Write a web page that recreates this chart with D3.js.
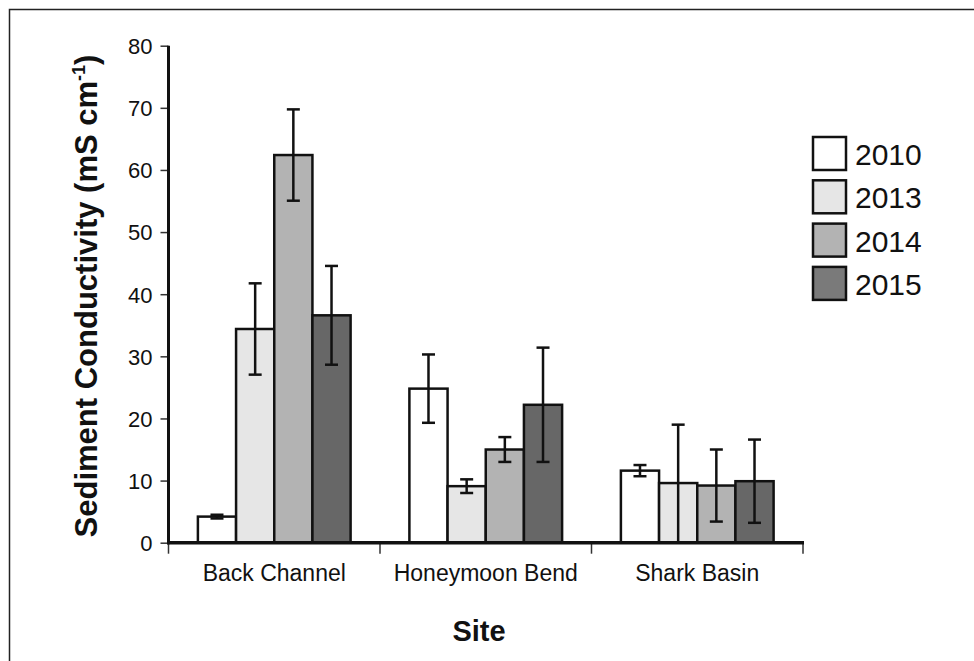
<!DOCTYPE html>
<html>
<head>
<meta charset="utf-8">
<script src="https://cdn.jsdelivr.net/npm/d3@7"></script>
<style>
  body { margin: 0; background: #fff; }
  text { font-family: "Liberation Sans", Arial, sans-serif; }
</style>
</head>
<body>
<svg id="chart" width="974" height="661"></svg>
<script>
// data
var sites = ["Back Channel", "Honeymoon Bend", "Shark Basin"];
var years = ["2010", "2013", "2014", "2015"];
var means = [
  [4.2, 34.4, 62.4, 36.6],
  [24.8, 9.1, 15.0, 22.2],
  [11.6, 9.6, 9.2, 9.9]
];
var errors = [
  [0.3, 7.35, 7.35, 7.95],
  [5.5, 1.1, 2.0, 9.2],
  [0.9, 9.4, 5.8, 6.7]
];
var yTicks = [0, 10, 20, 30, 40, 50, 60, 70, 80];

var svg = d3.select("#chart"),
    margin = {top: 45.7, left: 168.5, right: 171, bottom: 118.3},
    width = 974 - margin.left - margin.right,
    height = 661 - margin.top - margin.bottom,
    g = svg.append("g").attr("transform", "translate(" + margin.left + "," + margin.top + ")");

// outer frame (only top and left show)
svg.append("rect")
    .attr("x", 9.5).attr("y", 9.5)
    .attr("width", 1000).attr("height", 700)
    .attr("fill", "none")
    .attr("stroke", "#222")
    .attr("stroke-width", 1.5);

var x0 = d3.scaleBand().domain(sites).range([0, width]).padding(0);
var x1 = d3.scaleBand().domain(years).range([0, x0.bandwidth()]).paddingInner(0).paddingOuter(0.77);
var y = d3.scaleLinear().domain([0, 80]).range([height, 0]);
var color = d3.scaleOrdinal().domain(years).range(["#ffffff", "#e6e6e6", "#b3b3b3", "#676767"]);

var rows = [];
sites.forEach(function(s, i) {
  years.forEach(function(yr, j) {
    rows.push({site: s, year: yr, value: means[i][j], err: errors[i][j]});
  });
});

/* bars */
g.selectAll(".bar")
  .data(rows)
  .enter().append("rect")
    .attr("class", "bar")
    .attr("x", function(d) { return x0(d.site) + x1(d.year); })
    .attr("y", function(d) { return y(d.value); })
    .attr("width", x1.bandwidth())
    .attr("height", function(d) { return y(0) - y(d.value); })
    .attr("fill", function(d) { return color(d.year); })
    .attr("stroke", "#111")
    .attr("stroke-width", 2.5);

/* error bars */
var eb = g.selectAll(".err")
  .data(rows)
  .enter().append("g")
    .attr("class", "err")
    .attr("transform", function(d) { return "translate(" + (x0(d.site) + x1(d.year) + x1.bandwidth() / 2) + ",0)"; })
    .attr("stroke", "#111")
    .attr("stroke-width", 2.5);

eb.append("line")
    .attr("y1", function(d) { return y(Math.max(0, d.value - d.err)); })
    .attr("y2", function(d) { return y(d.value + d.err); });
eb.append("line")
    .attr("x1", -6.5).attr("x2", 6.5)
    .attr("y1", function(d) { return y(d.value + d.err); })
    .attr("y2", function(d) { return y(d.value + d.err); });
eb.filter(function(d) { return d.value - d.err > 0.5; }).append("line")
    .attr("x1", -6.5).attr("x2", 6.5)
    .attr("y1", function(d) { return y(d.value - d.err); })
    .attr("y2", function(d) { return y(d.value - d.err); });

/* y axis */
var yAxis = g.append("g")
    .call(d3.axisLeft(y).tickValues(yTicks).tickSize(8).tickPadding(8));
yAxis.select(".domain").remove();
yAxis.selectAll(".tick line").attr("stroke", "#333").attr("stroke-width", 1.5);
yAxis.selectAll(".tick text")
    .attr("fill", "#111")
    .style("font-size", "22px")
    .attr("dy", "0.36em");
g.append("line")
    .attr("x1", 0).attr("x2", 0)
    .attr("y1", y(80)).attr("y2", y(0) + 1.5)
    .attr("stroke", "#111").attr("stroke-width", 3);

/* x axis */
var xAxis = g.append("g")
    .attr("transform", "translate(0," + height + ")");
xAxis.selectAll(".xtick")
  .data(sites.map(function(s) { return x0(s); }).concat([width]))
  .enter().append("line")
    .attr("x1", function(d) { return d; })
    .attr("x2", function(d) { return d; })
    .attr("y1", 0).attr("y2", 11)
    .attr("stroke", "#333").attr("stroke-width", 1.5);
xAxis.append("line")
    .attr("x1", -1.5).attr("x2", width + 1)
    .attr("stroke", "#111").attr("stroke-width", 3.5);
xAxis.selectAll(".xlabel")
  .data(sites)
  .enter().append("text")
    .attr("x", function(d) { return x0(d) + x0.bandwidth() / 2; })
    .attr("y", 38)
    .attr("text-anchor", "middle")
    .attr("fill", "#111")
    .style("font-size", "23px")
    .text(function(d) { return d; });

/* axis titles */
svg.append("text")
    .attr("x", 479)
    .attr("y", 641)
    .attr("text-anchor", "middle")
    .attr("font-weight", "bold")
    .attr("fill", "#111")
    .style("font-size", "29px")
    .text("Site");

var yt = svg.append("text")
    .attr("transform", "translate(97,296) rotate(-90)")
    .attr("text-anchor", "middle")
    .attr("font-weight", "bold")
    .attr("fill", "#111")
    .style("font-size", "31px");
yt.append("tspan").text("Sediment Conductivity (mS cm");
yt.append("tspan").attr("dy", -12).style("font-size", "18px").text("-1");
yt.append("tspan").attr("dy", 12).text(")");

/* legend */
var legend = svg.selectAll(".legend")
  .data(years)
  .enter().append("g")
    .attr("class", "legend")
    .attr("transform", function(d, i) { return "translate(813," + (137 + i * 43.3) + ")"; });

legend.append("rect")
    .attr("width", 33)
    .attr("height", 33)
    .attr("fill", function(d) { return d === "2015" ? "#7a7a7a" : color(d); })
    .attr("stroke", "#111")
    .attr("stroke-width", 2.5);

legend.append("text")
    .attr("x", 42)
    .attr("y", 28)
    .attr("fill", "#111")
    .style("font-size", "30px")
    .text(function(d) { return d; });
</script>
</body>
</html>
